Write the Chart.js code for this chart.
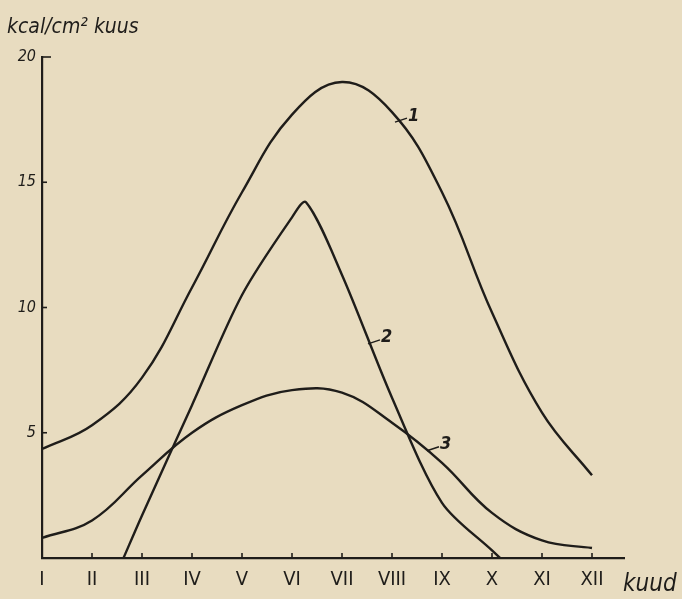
<!DOCTYPE html>
<html>
<head>
<meta charset="utf-8">
<script src="https://cdn.jsdelivr.net/npm/chart.js@4"></script>
<style>
  html, body { margin: 0; padding: 0; background: #e8dcc0; }
  #wrap { width: 682px; height: 599px; }
</style>
</head>
<body>
<div id="wrap"><canvas id="c" width="682" height="599"></canvas></div>
<script>
// ---- data ----
const categories = ['I','II','III','IV','V','VI','VII','VIII','IX','X','XI','XII'];
const yTickValues = [5, 10, 15, 20];
const xAxisTitle = 'kuud';
const yAxisTitle = 'kcal/cm² kuus';

// curve 1 (monthly values I..XII)
const curve1Months = [1, 2, 3, 4, 5, 6, 7, 8, 9, 10, 11, 12];
const curve1Values = [4.35, 5.3, 7.2, 10.8, 14.6, 17.7, 19.0, 17.8, 14.6, 9.8, 5.8, 3.3];

// curve 2 (starts/ends on the axis between months)
const curve2Months = [2.63, 3, 4, 5, 6, 6.28, 7, 8, 9, 10, 10.16];
const curve2Values = [0, 1.7, 6.1, 10.5, 13.6, 14.2, 11.3, 6.4, 2.2, 0.3, 0];

// curve 3
const curve3Months = [1, 2, 3, 4, 5, 6, 7, 8, 9, 10, 11, 12];
const curve3Values = [0.8, 1.5, 3.3, 5.0, 6.1, 6.7, 6.6, 5.4, 3.8, 1.8, 0.7, 0.4];

const curveNames = ['1', '2', '3'];
// where each curve's number is attached (month, value on that curve)
const labelAnchorMonths = [8.06, 7.52, 8.7];
const labelAnchorValues = [17.4, 8.55, 4.28];

const INK = '#1f1d1a';
const PAPER = '#e8dcc0';
const NARROW = "'Liberation Sans Narrow', 'DejaVu Sans Condensed', sans-serif";
const HAND = "'DejaVu Sans Condensed', 'DejaVu Sans', sans-serif";

function pts(xs, ys) { return xs.map((x, i) => ({ x: x, y: ys[i] })); }

const paperPlugin = {
  id: 'paper',
  beforeDraw(chart) {
    const ctx = chart.ctx;
    ctx.save();
    ctx.fillStyle = PAPER;
    ctx.fillRect(0, 0, chart.width, chart.height);
    ctx.restore();
  }
};

const decorPlugin = {
  id: 'decor',
  afterDraw(chart) {
    const ctx = chart.ctx;
    const xs = chart.scales.x, ys = chart.scales.y;
    const area = chart.chartArea;
    ctx.save();
    ctx.strokeStyle = INK;
    ctx.fillStyle = INK;
    ctx.lineWidth = 1.6;
    // inward ticks on y axis
    yTickValues.forEach(v => {
      const py = ys.getPixelForValue(v);
      const len = v === 20 ? 9 : 5;
      ctx.beginPath();
      ctx.moveTo(area.left, py);
      ctx.lineTo(area.left + len, py);
      ctx.stroke();
    });
    // inward ticks on x axis
    categories.forEach((c, i) => {
      if (i === 0) return;
      const px = xs.getPixelForValue(i + 1);
      ctx.beginPath();
      ctx.moveTo(px, area.bottom);
      ctx.lineTo(px, area.bottom - 5);
      ctx.stroke();
    });
    // axis titles
    ctx.font = 'italic 21px ' + HAND;
    ctx.textBaseline = 'alphabetic';
    ctx.textAlign = 'left';
    ctx.fillText(yAxisTitle, 7, 33);
    ctx.font = 'italic 24px ' + HAND;
    ctx.fillText(xAxisTitle, area.right - 1, area.bottom + 33);
    // curve numbers with short leader lines
    ctx.font = 'italic bold 18px ' + HAND;
    ctx.lineWidth = 1.4;
    ctx.textBaseline = 'middle';
    curveNames.forEach((n, i) => {
      const ax = xs.getPixelForValue(labelAnchorMonths[i]);
      const ay = ys.getPixelForValue(labelAnchorValues[i]);
      ctx.beginPath();
      ctx.moveTo(ax, ay);
      ctx.lineTo(ax + 12, ay - 4);
      ctx.stroke();
      ctx.fillText(n, ax + 13, ay - 6);
    });
    ctx.restore();
  }
};

const lineStyle = {
  borderColor: INK,
  borderWidth: 2.4,
  pointRadius: 0,
  fill: false,
  tension: 0.4
};

new Chart(document.getElementById('c'), {
  type: 'line',
  data: {
    datasets: [
      Object.assign({ label: curveNames[0], data: pts(curve1Months, curve1Values) }, lineStyle),
      Object.assign({ label: curveNames[1], data: pts(curve2Months, curve2Values) }, lineStyle, { tension: 0.3 }),
      Object.assign({ label: curveNames[2], data: pts(curve3Months, curve3Values) }, lineStyle)
    ]
  },
  plugins: [paperPlugin, decorPlugin],
  options: {
    responsive: false,
    devicePixelRatio: 1,
    animation: false,
    events: [],
    layout: { padding: { left: 0, top: 57, right: 58, bottom: 0 } },
    plugins: { legend: { display: false }, title: { display: false }, tooltip: { enabled: false } },
    scales: {
      x: {
        type: 'linear',
        min: 1,
        max: 12.64,
        afterFit(s) { s.height = 41; },
        afterBuildTicks(s) { s.ticks = categories.map((c, i) => ({ value: i + 1 })); },
        ticks: {
          callback: (v) => categories[Math.round(v) - 1] || '',
          color: INK,
          font: { family: NARROW, size: 20 },
          padding: 10,
          maxRotation: 0,
          autoSkip: false
        },
        grid: { display: false, drawTicks: false },
        border: { display: true, color: INK, width: 2.2 }
      },
      y: {
        min: 0,
        max: 20,
        afterFit(s) { s.width = 42; },
        afterBuildTicks(s) { s.ticks = yTickValues.map(v => ({ value: v })); },
        ticks: {
          color: INK,
          font: { family: HAND, size: 16, style: 'italic' },
          padding: 6
        },
        grid: { display: false, drawTicks: false },
        border: { display: true, color: INK, width: 2.2 }
      }
    }
  }
});
</script>
</body>
</html>
